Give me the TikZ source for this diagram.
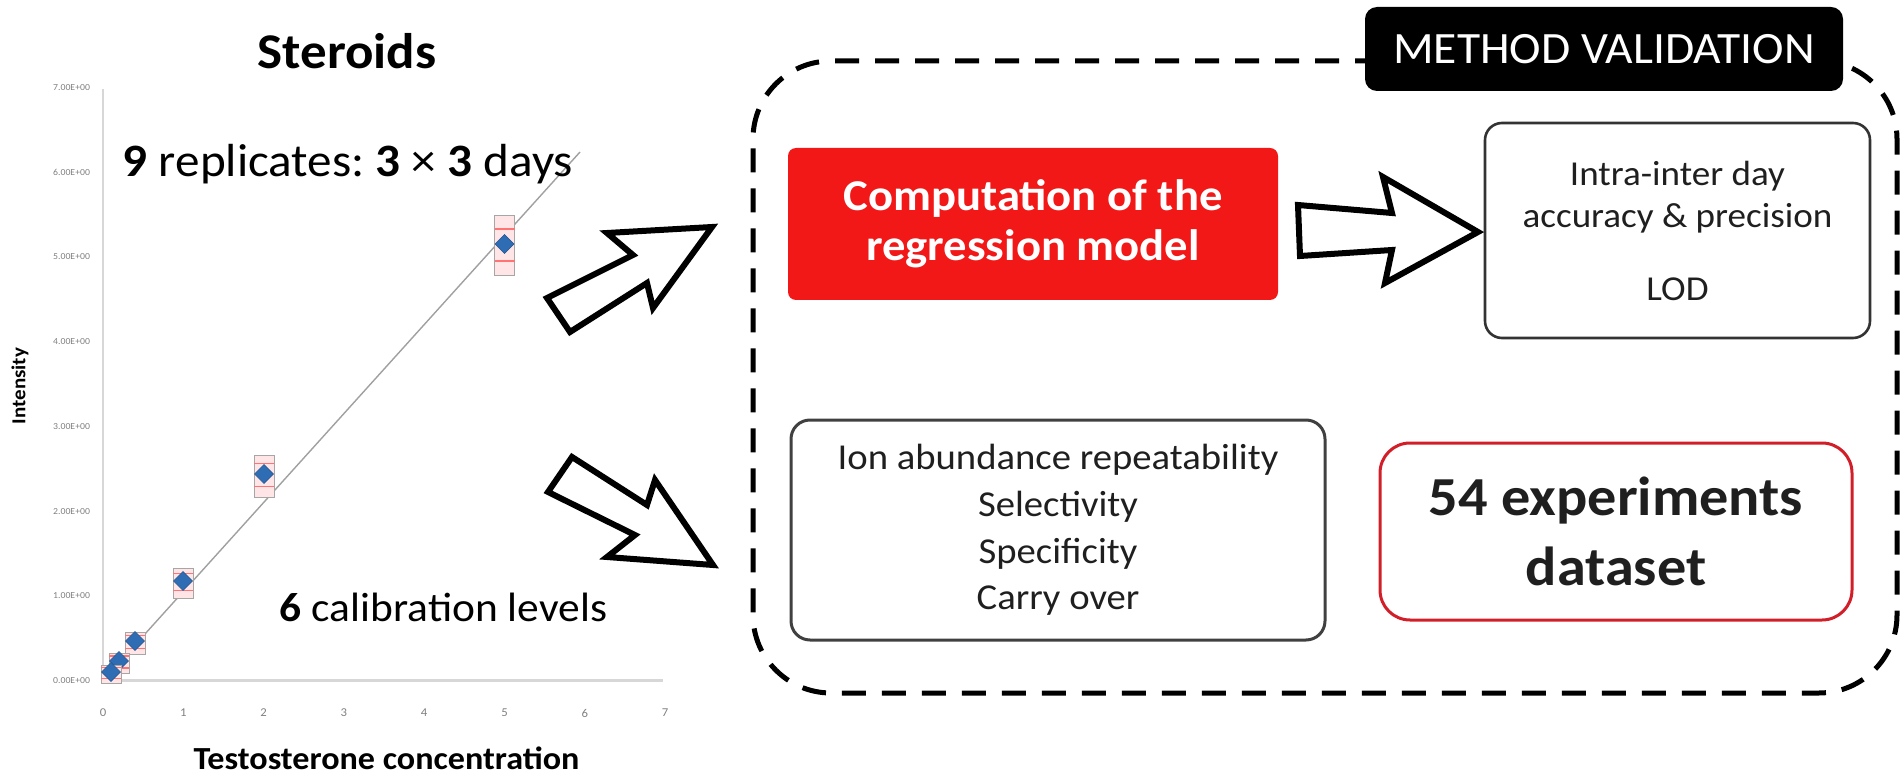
\documentclass[tikz,border=0pt]{standalone}
\usepackage{fontspec}
\setmainfont{Carlito}[FakeStretch=1.06]
\frenchspacing
\definecolor{xred}{RGB}{243,24,24}
\definecolor{boxred}{RGB}{210,30,40}
\definecolor{xblue}{RGB}{46,108,180}
\definecolor{axisgray}{RGB}{215,215,215}
\definecolor{reggray}{RGB}{160,160,160}
\begin{document}
\begin{tikzpicture}[x=0.5pt,y=-0.5pt,
  every node/.style={inner sep=0pt, outer sep=0pt},
  ticklbl/.style={text=black!50, font=\fontsize{4.6}{5}\selectfont},
  xticklbl/.style={text=black!50, font=\fontsize{6}{7}\selectfont},
  axisline/.style={draw=axisgray, line width=1.2pt},
  regline/.style={draw=reggray, line width=0.7pt},
  bpbox/.style={draw=black!35, fill=red!10, line width=0.5pt},
  bpline/.style={draw=red!55, line width=0.6pt},
  datapt/.style={fill=xblue, draw=xblue!80!black, line width=0.3pt},
  bigarrow/.style={draw=black, fill=white, line width=3pt, line join=miter},
  framebox/.style={draw=black, line width=2.5pt, dash pattern=on 12pt off 8pt, rounded corners=39pt},
  txtbox/.style={align=center, text=black!88}
]
\useasboundingbox (0,0) rectangle (1902,775);

% ---------------- chart ----------------
\draw[axisline] (103,89) -- (103,680.5);
\draw[axisline] (103,680.5) -- (663,680.5);
\foreach \k in {0,...,7} {
  \node[ticklbl, anchor=east] (yt\k) at (90,{680.5-84.7*\k}) {\k.00E+00};
  \node[xticklbl] (xt\k) at ({103+80.3*\k},713) {\k};
}
\draw[regline] (103,680.5) -- (580,152);
\foreach \xx/\yy/\hh in {504.5/244/30, 264/474/21, 183/581/15, 135/641/11, 119/661/10, 111/672/9} {
  \draw[bpbox] ({\xx-10},{\yy-\hh+2}) rectangle ({\xx+10},{\yy+\hh+2});
  \draw[bpline] ({\xx-10},{\yy-\hh/2}) -- ({\xx+10},{\yy-\hh/2});
  \draw[bpline] ({\xx-10},{\yy+\hh/2+2}) -- ({\xx+10},{\yy+\hh/2+2});
  \draw[datapt] (\xx,{\yy-9.5}) -- ({\xx+9.5},\yy) -- (\xx,{\yy+9.5}) -- ({\xx-9.5},\yy) -- cycle;
}
\node[font=\bfseries\fontsize{9.9}{11}\selectfont, rotate=90] (ylab) at (20,386) {Intensity};
\node[font=\bfseries\fontsize{16.1}{19}\selectfont, anchor=base] (xlab) at (386.5,769) {Testosterone concentration};
\node[font=\bfseries\fontsize{25}{30}\selectfont, anchor=base] (title) at (347,69) {Steroids};
\node[font=\fontsize{23.2}{27}\selectfont, anchor=base] (rep) at (348,177)
  {{\bfseries 9} replicates: {\bfseries 3} × {\bfseries 3} days};
\node[font=\fontsize{20.5}{24}\selectfont, anchor=base] (cal) at (443.5,621.5)
  {{\bfseries 6} calibration levels};

% ---------------- block arrows from chart ----------------
\draw[bigarrow] (547,298) -- (633,255) -- (607,233) -- (712,227) -- (653,308) -- (647,283) -- (570,332) -- cycle;
\draw[bigarrow] (572,457) -- (647,505) -- (655,480) -- (713,565) -- (607,557) -- (635,535) -- (548,492) -- cycle;

% ---------------- method validation frame ----------------
\node[framebox, minimum width=572pt, minimum height=316pt] (frame) at (1325,377) {};
\node[fill=black, rounded corners=6pt, minimum width=239pt, minimum height=42pt,
      text=white, font=\fontsize{22.4}{26}\selectfont] (mv) at (1604,49) {METHOD VALIDATION};

\node[fill=xred, rounded corners=4pt, minimum width=245pt, minimum height=76pt,
      align=center, text=white, font=\bfseries\fontsize{22}{25}\selectfont] (comp) at (1033,224)
      {Computation of the\\regression model};

\node[txtbox, draw=black!80, line width=1.3pt, rounded corners=8.5pt,
      minimum width=192.5pt, minimum height=107.5pt, font=\fontsize{17.5}{21}\selectfont] (intra) at (1677.5,230.5)
      {Intra-inter day\\accuracy \& precision\\[15.5pt]LOD};

\node[txtbox, draw=black!75, line width=1.5pt, rounded corners=9.5pt,
      minimum width=267pt, minimum height=110pt, font=\fontsize{18.25}{23.3}\selectfont] (ion) at (1058,530)
      {Ion abundance repeatability\\Selectivity\\Specificity\\Carry over};

\node[txtbox, draw=boxred, line width=1.5pt, rounded corners=15pt,
      minimum width=236pt, minimum height=88.5pt, font=\bfseries\fontsize{27.5}{35}\selectfont] (exp) at (1616,531.5)
      {54 experiments\\dataset};

% ---------------- arrow from computation to accuracy ----------------
\begin{scope}[shift={(comp.east)}]
  \draw[bigarrow] (20,-19) -- (114,-11) -- (105,-47) -- (200,8) -- (107,59) -- (114,26) -- (22,32) -- cycle;
\end{scope}
\end{tikzpicture}
\end{document}
